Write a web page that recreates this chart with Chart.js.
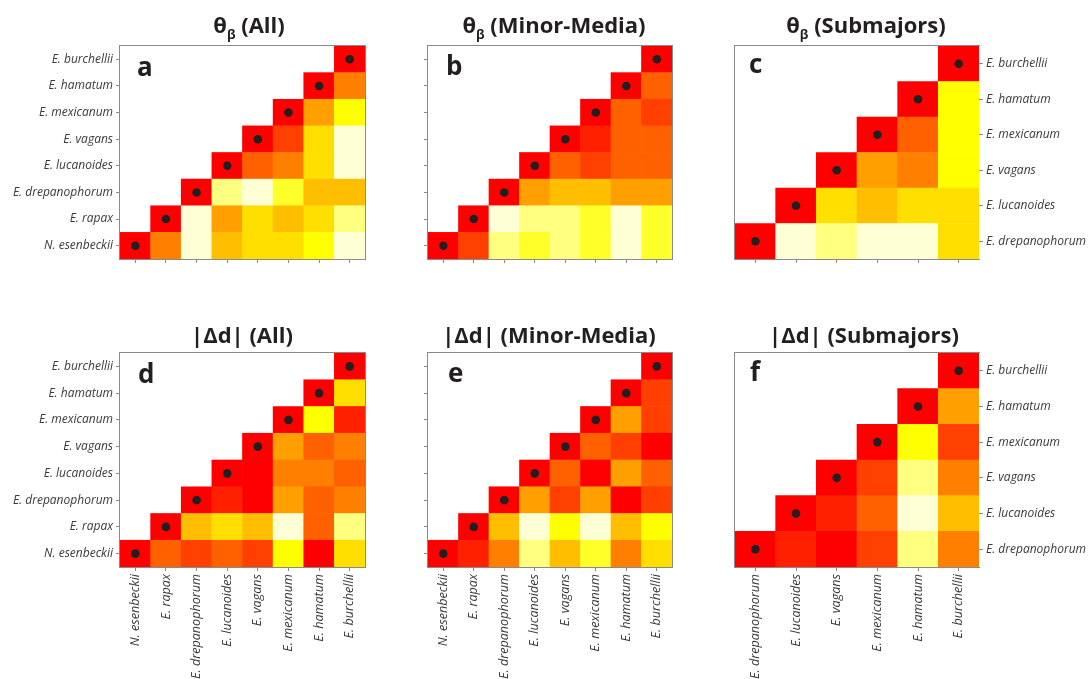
<!DOCTYPE html>
<html>
<head>
<meta charset="utf-8">
<script src="https://cdn.jsdelivr.net/npm/chart.js@4/dist/chart.umd.min.js"></script>
<style>
  body { margin: 0; background: #fff; width: 1092px; height: 679px; overflow: hidden; position: relative; font-family: "Open Sans", sans-serif; }
  canvas { position: absolute; }
  .title { position: absolute; width: 400px; text-align: center; font-weight: 700; font-size: 22px; line-height: 26px; color: #231f20; white-space: nowrap; z-index: 2; }
  .title sub { font-size: 13px; vertical-align: -6px; line-height: 0; }
  .tag { position: absolute; font-weight: 700; font-size: 26px; line-height: 26px; color: #231f20; z-index: 2; }
</style>
</head>
<body>
<script>
// Species, in the order used for both axes (first entry = bottom row / left column)
const speciesAll = ["N. esenbeckii", "E. rapax", "E. drepanophorum", "E. lucanoides", "E. vagans", "E. mexicanum", "E. hamatum", "E. burchellii"];
const speciesSub = ["E. drepanophorum", "E. lucanoides", "E. vagans", "E. mexicanum", "E. hamatum", "E. burchellii"];

// Colour scale: heat palette with 12 steps (0 = red ... 11 = pale yellow)
const heatLevels = ["#FF0000", "#FF2000", "#FF4000", "#FF6000", "#FF8000", "#FF9F00",
                    "#FFBF00", "#FFDF00", "#FFFF00", "#FFFF2A", "#FFFF80", "#FFFFD5"];

// Each matrix row r (bottom to top) starts at the diagonal cell (column r)
const thetaAll = [
  [0, 4, 11, 6, 7, 7, 8, 11],
  [0, 11, 5, 7, 6, 7, 10],
  [0, 10, 11, 9, 6, 6],
  [0, 3, 4, 7, 11],
  [0, 2, 7, 11],
  [0, 5, 8],
  [0, 4],
  [0]
];
const thetaMinor = [
  [0, 2, 10, 9, 10, 9, 11, 9],
  [0, 11, 10, 10, 9, 11, 9],
  [0, 5, 6, 6, 5, 5],
  [0, 3, 2, 3, 3],
  [0, 1, 3, 3],
  [0, 3, 2],
  [0, 3],
  [0]
];
const thetaSub = [
  [0, 11, 10, 11, 11, 7],
  [0, 7, 6, 7, 7],
  [0, 5, 4, 8],
  [0, 3, 8],
  [0, 8],
  [0]
];
const deltaAll = [
  [0, 3, 2, 3, 2, 8, 0, 7],
  [0, 6, 7, 6, 11, 3, 10],
  [0, 1, 0, 5, 3, 4],
  [0, 0, 4, 4, 3],
  [0, 5, 3, 4],
  [0, 8, 1],
  [0, 7],
  [0]
];
const deltaMinor = [
  [0, 1, 4, 10, 6, 9, 4, 7],
  [0, 6, 11, 8, 11, 6, 8],
  [0, 5, 2, 5, 0, 2],
  [0, 3, 0, 5, 3],
  [0, 3, 2, 0],
  [0, 5, 2],
  [0, 2],
  [0]
];
const deltaSub = [
  [0, 1, 0, 2, 10, 4],
  [0, 1, 3, 11, 6],
  [0, 2, 10, 4],
  [0, 8, 2],
  [0, 5],
  [0]
];

const panels = [
  { tag: "a", title: "θ<sub>β</sub> (All)",          titleX: 249, species: speciesAll, rows: thetaAll,   x: 0,   y: 40,  w: 370, h: 230, yPos: "left",  yW: 120, yLabels: true,  xH: 11,  xLabels: false, pad: { left: 0,  right: 5 }, box: [1, 1, 1, 1], tagX: 137, tagY: 53 },
  { tag: "b", title: "θ<sub>β</sub> (Minor-Media)",  titleX: 554, species: speciesAll, rows: thetaMinor, x: 380, y: 40,  w: 300, h: 230, yPos: "left",  yW: 48,  yLabels: false, xH: 11,  xLabels: false, pad: { left: 0,  right: 8 }, box: [1, 1, 1, 1], tagX: 446, tagY: 52 },
  { tag: "c", title: "θ<sub>β</sub> (Submajors)",    titleX: 866, species: speciesSub, rows: thetaSub,   x: 700, y: 40,  w: 392, h: 230, yPos: "right", yW: 113, yLabels: true,  xH: 11,  xLabels: false, pad: { left: 35, right: 0 }, box: [1, 0, 1, 1], tagX: 749, tagY: 50 },
  { tag: "d", title: "|Δd| (All)",                   titleX: 242, species: speciesAll, rows: deltaAll,   x: 0,   y: 347, w: 370, h: 332, yPos: "left",  yW: 120, yLabels: true,  xH: 112, xLabels: true,  pad: { left: 0,  right: 5 }, box: [1, 1, 1, 1], tagX: 138, tagY: 360 },
  { tag: "e", title: "|Δd| (Minor-Media)",           titleX: 549, species: speciesAll, rows: deltaMinor, x: 380, y: 347, w: 300, h: 332, yPos: "left",  yW: 48,  yLabels: false, xH: 112, xLabels: true,  pad: { left: 0,  right: 8 }, box: [1, 1, 1, 1], tagX: 448, tagY: 359 },
  { tag: "f", title: "|Δd| (Submajors)",             titleX: 864, species: speciesSub, rows: deltaSub,   x: 700, y: 347, w: 392, h: 332, yPos: "right", yW: 113, yLabels: true,  xH: 112, xLabels: true,  pad: { left: 35, right: 0 }, box: [1, 0, 1, 1], tagX: 750, tagY: 358 }
];

// Frame around the plotting region: [top, right, bottom, left]
const framePlugin = {
  id: "frame",
  afterDraw(chart, args, opts) {
    const { ctx, chartArea: a } = chart;
    const [t, r, b, l] = opts.sides;
    ctx.save();
    ctx.strokeStyle = "#8a8a8a";
    ctx.lineWidth = 1;
    ctx.beginPath();
    if (t) { ctx.moveTo(a.left - 1, a.top - 0.5); ctx.lineTo(a.right + 1, a.top - 0.5); }
    if (r) { ctx.moveTo(a.right + 0.5, a.top - 1); ctx.lineTo(a.right + 0.5, a.bottom + 1); }
    if (b) { ctx.moveTo(a.left - 1, a.bottom + 0.5); ctx.lineTo(a.right + 1, a.bottom + 0.5); }
    if (l) { ctx.moveTo(a.left - 0.5, a.top - 1); ctx.lineTo(a.left - 0.5, a.bottom + 1); }
    ctx.stroke();
    ctx.restore();
  }
};

const yFont = { family: "'Open Sans', sans-serif", style: "italic", size: 12 };
const xFont = { family: "'Open Sans', sans-serif", style: "italic", size: 12.6 };

// keep the plotting region fixed: no extra room reserved for overhanging labels
function zeroPadding(s) {
  s.paddingTop = 0; s.paddingBottom = 0; s.paddingLeft = 0; s.paddingRight = 0;
}

function buildPanel(p) {
  const n = p.species.length;
  const canvas = document.createElement("canvas");
  canvas.width = p.w;
  canvas.height = p.h;
  canvas.style.left = p.x + "px";
  canvas.style.top = p.y + "px";
  document.body.appendChild(canvas);

  // one floating-bar dataset per matrix row; each cell spans [r, r+1] on the y scale
  const datasets = p.rows.map((row, r) => ({
    type: "bar",
    data: p.species.map((s, c) => (c >= r ? [r, r + 1] : null)),
    backgroundColor: p.species.map((s, c) => (c >= r ? heatLevels[row[c - r]] : "rgba(0,0,0,0)")),
    borderWidth: 0,
    barPercentage: 1,
    categoryPercentage: 1,
    grouped: false,
    order: 2
  }));
  // diagonal markers
  datasets.push({
    type: "scatter",
    data: p.species.map((s, i) => ({ x: s, y: i + 0.5 })),
    pointRadius: 4.3,
    pointHoverRadius: 4.3,
    backgroundColor: "#231f20",
    borderWidth: 0,
    order: 1
  });

  new Chart(canvas, {
    type: "bar",
    data: { labels: p.species, datasets },
    plugins: [framePlugin],
    options: {
      responsive: false,
      animation: false,
      devicePixelRatio: 1,
      layout: { padding: { top: 6, bottom: 0, left: p.pad.left, right: p.pad.right } },
      plugins: { legend: { display: false }, tooltip: { enabled: false }, frame: { sides: p.box } },
      scales: {
        x: {
          type: "category",
          offset: true,
          position: "bottom",
          grid: { display: true, drawOnChartArea: false, drawTicks: true, tickLength: 4, color: "#8a8a8a", offset: false },
          border: { display: false },
          ticks: { display: p.xLabels, autoSkip: false, minRotation: 90, maxRotation: 90, padding: 3, color: "#3a3a3a", font: xFont },
          afterFit(s) { s.height = p.xH; zeroPadding(s); }
        },
        y: {
          type: "linear",
          min: 0,
          max: n,
          position: p.yPos,
          afterBuildTicks(s) { s.ticks = p.species.map((_, i) => ({ value: i + 0.5 })); },
          grid: { display: true, drawOnChartArea: false, drawTicks: true, tickLength: 4, color: "#8a8a8a" },
          border: { display: false },
          ticks: { display: p.yLabels, padding: 3, color: "#3a3a3a", font: yFont, callback: (v, i) => p.species[i] },
          afterFit(s) { s.width = p.yW; zeroPadding(s); }
        }
      }
    }
  });

  const t = document.createElement("div");
  t.className = "title";
  t.innerHTML = p.title;
  t.style.left = (p.titleX - 200) + "px";
  t.style.top = (p.y < 100 ? 11 : 321) + "px";
  document.body.appendChild(t);

  const g = document.createElement("div");
  g.className = "tag";
  g.textContent = p.tag;
  g.style.left = p.tagX + "px";
  g.style.top = p.tagY + "px";
  document.body.appendChild(g);
}

panels.forEach(buildPanel);
</script>
</body>
</html>
